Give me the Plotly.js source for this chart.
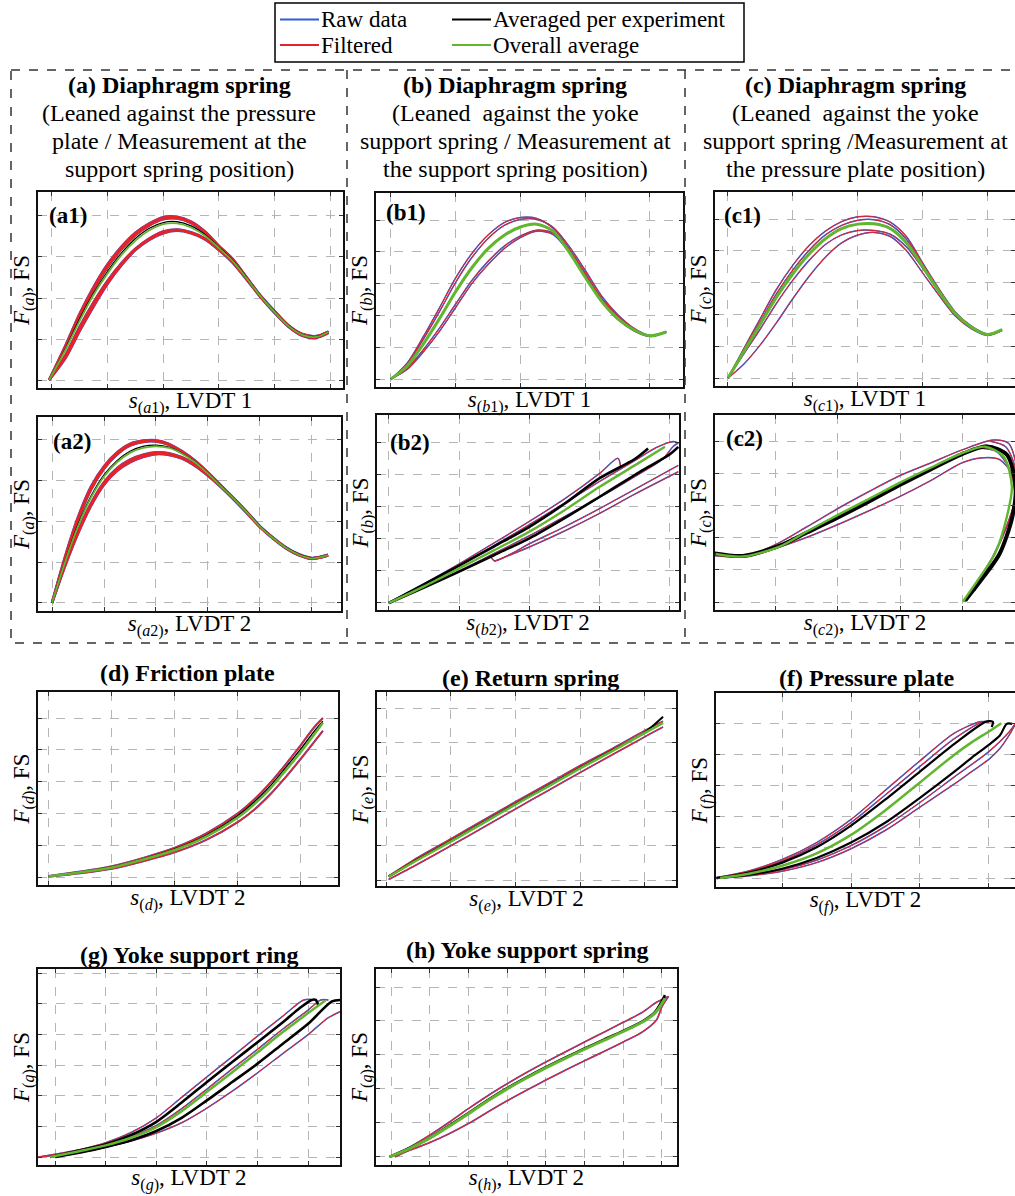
<!DOCTYPE html>
<html><head><meta charset="utf-8">
<script src="https://cdn.plot.ly/plotly-3.0.1.min.js"></script>
<style>html,body{margin:0;padding:0;background:#fff}#chart{width:1015px;height:1196px}</style>
</head><body><div id="chart"></div>
<script>
// ---------------- DATA (normalised grid units) ----------------
// (a1)
const a1_s  = [-0.05,0.25,0.5,0.75,1.0,1.25,1.5,1.75,2.0,2.25,2.5,2.75,3.0,3.25,3.5,3.75,4.0,4.25,4.5,4.75,4.97];
const a1_f1 = [0,0.86,1.62,2.27,2.82,3.25,3.59,3.82,3.97,3.98,3.86,3.62,3.27,2.95,2.5,2.05,1.68,1.33,1.12,1.07,1.18];
const a1_f2 = [0,0.82,1.56,2.2,2.75,3.19,3.53,3.77,3.92,3.94,3.83,3.6,3.26,2.93,2.49,2.05,1.67,1.33,1.11,1.06,1.17];
const a1_f3 = [0,0.62,1.3,1.9,2.42,2.85,3.2,3.45,3.62,3.67,3.6,3.45,3.18,2.86,2.45,2.02,1.64,1.3,1.08,1.03,1.15];
const a1_f4 = [0,0.55,1.2,1.8,2.35,2.8,3.17,3.42,3.58,3.64,3.58,3.43,3.17,2.87,2.46,2.03,1.65,1.31,1.09,1.04,1.16];
const a1_k1 = [0,0.78,1.5,2.12,2.65,3.1,3.45,3.7,3.84,3.86,3.76,3.55,3.24,2.92,2.49,2.05,1.67,1.33,1.11,1.06,1.17];
const a1_g  = [0,0.75,1.45,2.08,2.6,3.05,3.4,3.65,3.8,3.82,3.72,3.52,3.22,2.9,2.48,2.04,1.66,1.32,1.1,1.05,1.17];
// (a2)
const a2_s  = [0,0.25,0.5,0.75,1.0,1.25,1.5,1.75,2.0,2.25,2.5,2.75,3.0,3.25,3.5,3.75,4.0,4.25,4.5,4.75,5.0,5.31];
const a2_f1 = [0,1.13,2.1,2.85,3.35,3.69,3.9,3.98,3.99,3.9,3.72,3.49,3.2,2.88,2.56,2.23,1.88,1.6,1.36,1.19,1.1,1.18];
const a2_f2 = [0,1.08,2.03,2.78,3.29,3.64,3.86,3.95,3.96,3.88,3.7,3.47,3.19,2.87,2.55,2.22,1.87,1.59,1.35,1.18,1.09,1.17];
const a2_f3 = [0,0.9,1.7,2.38,2.9,3.24,3.45,3.58,3.65,3.63,3.54,3.36,3.12,2.84,2.53,2.2,1.86,1.58,1.34,1.17,1.08,1.16];
const a2_f4 = [0,0.94,1.76,2.44,2.96,3.3,3.51,3.63,3.69,3.67,3.57,3.39,3.14,2.85,2.54,2.21,1.87,1.59,1.35,1.18,1.09,1.17];
const a2_k1 = [0,1.02,1.92,2.62,3.14,3.49,3.72,3.84,3.87,3.82,3.67,3.46,3.18,2.87,2.56,2.23,1.88,1.6,1.36,1.19,1.1,1.18];
const a2_g  = [0,1.0,1.88,2.58,3.1,3.45,3.68,3.8,3.84,3.8,3.66,3.45,3.17,2.86,2.55,2.22,1.87,1.59,1.35,1.18,1.09,1.17];
// (b1)
const b1_s  = [0,0.25,0.5,0.75,1.0,1.25,1.5,1.75,2.0,2.25,2.5,2.75,3.0,3.25,3.5,3.75,4.0,4.25];
const b1_f1 = [0,0.5,1.33,2.24,3.18,3.95,4.53,4.92,5.08,5.05,4.75,4.1,3.33,2.54,1.99,1.58,1.36,1.49];
const b1_f2 = [0,0.46,1.25,2.12,3.04,3.82,4.42,4.83,5.02,5.02,4.78,4.18,3.42,2.62,2.03,1.6,1.37,1.5];
const b1_f3 = [0,0.3,0.85,1.5,2.25,3.0,3.6,4.1,4.45,4.65,4.55,4.0,3.22,2.45,1.88,1.52,1.34,1.47];
const b1_f4 = [0,0.34,0.92,1.6,2.36,3.1,3.7,4.18,4.5,4.68,4.6,4.08,3.3,2.5,1.92,1.54,1.35,1.48];
const b1_g  = [0,0.4,1.1,1.9,2.75,3.5,4.1,4.52,4.78,4.87,4.66,4.0,3.2,2.45,1.9,1.55,1.36,1.48];
// (b2)
const b2_f1x = [0,0.5,1.0,1.5,2.0,2.5,3.0,3.26,3.3];
const b2_f1y = [0,0.6,1.22,1.88,2.55,3.25,4.05,4.52,4.25];
const b2_f2x = [0,0.5,1.0,1.5,2.0,2.5,3.0,3.5,3.8,4.05,4.12];
const b2_f2y = [0,0.58,1.18,1.8,2.45,3.12,3.8,4.45,4.85,5.05,5.0];
const b2_f3x = [1.44,1.5,1.75,2.0,2.5,3.0,3.5,4.12];
const b2_f3y = [1.5,1.32,1.55,1.85,2.38,2.95,3.55,4.3];
const b2_f4x = [1.5,2.0,2.5,3.0,3.5,4.12];
const b2_f4y = [1.3,1.75,2.25,2.8,3.4,4.1];
const b2_f5x = [0,0.5,1.0,1.5,2.0,2.5,3.0,3.5,3.9,4.05,4.12];
const b2_f5y = [0,0.5,1.0,1.55,2.1,2.7,3.3,3.95,4.5,4.9,5.0];
const b2_k1x = [0,0.5,1.0,1.5,2.0,2.5,3.0,3.5,3.69];
const b2_k1y = [0,0.58,1.17,1.77,2.38,3.1,3.9,4.5,4.83];
const b2_k2x = [0,0.5,1.0,1.5,2.0,2.5,3.0,3.5,3.7,4.0,4.12];
const b2_k2y = [0,0.48,0.98,1.5,2.02,2.65,3.32,4.0,4.26,4.65,4.88];
const b2_gx  = [0,0.5,1.0,1.5,2.0,2.5,3.0,3.5,3.93];
const b2_gy  = [0,0.52,1.08,1.65,2.23,2.9,3.63,4.3,4.88];
// (c1)
const c1_s  = [0,0.25,0.5,0.75,1.0,1.25,1.5,1.75,2.0,2.25,2.5,2.75,3.0,3.25,3.5,3.75,4.0,4.22];
const c1_f1 = [0,0.95,1.88,2.8,3.55,4.17,4.62,4.92,5.07,5.07,4.9,4.44,3.61,2.8,2.08,1.63,1.38,1.53];
const c1_f2 = [0,0.78,1.55,2.36,3.08,3.7,4.2,4.5,4.64,4.64,4.52,4.12,3.45,2.7,2.0,1.58,1.36,1.51];
const c1_f3 = [0,0.45,1.05,1.75,2.5,3.2,3.8,4.25,4.5,4.58,4.45,4.0,3.3,2.6,1.95,1.55,1.34,1.49];
const c1_f4 = [0,0.9,1.78,2.66,3.4,4.02,4.5,4.8,4.96,4.98,4.82,4.36,3.58,2.77,2.06,1.62,1.38,1.53];
const c1_g  = [0,0.85,1.7,2.55,3.28,3.9,4.38,4.7,4.84,4.85,4.7,4.25,3.5,2.72,2.03,1.6,1.37,1.52];
// (c2)
const c2_f1x = [0.0,0.5,1.0,1.5,2.0,2.5,3.0,3.5,4.0,4.5,4.75,4.9];
const c2_f1y = [1.45,1.42,1.8,2.35,2.92,3.45,3.95,4.35,4.75,5.06,4.95,4.0];
const c2_f2x = [0.5,1.0,1.5,2.0,2.5,3.0,3.5,4.0,4.3,4.6,4.8,4.85];
const c2_f2y = [1.42,1.68,2.02,2.42,2.85,3.3,3.8,4.35,4.5,4.45,4.0,3.2];
const c2_f3x = [4.45,4.7,4.85,4.85,4.7,4.5,4.28,4.04];
const c2_f3y = [5.02,4.85,4.2,3.2,2.3,1.45,0.72,0.0];
const c2_f4x = [4.3,4.55,4.75,4.85,4.8,4.62,4.4,4.2];
const c2_f4y = [4.8,4.7,4.2,3.4,2.8,1.9,1.05,0.35];
const c2_kx  = [0.0,0.47,1.06,1.5,2.0,2.5,3.0,3.5,4.0,4.4,4.72,4.86,4.8,4.6,4.35,4.05];
const c2_ky  = [1.52,1.44,1.76,2.17,2.64,3.14,3.66,4.15,4.62,4.86,4.6,3.6,2.6,1.5,0.8,0.05];
const c2_gx  = [0.03,0.47,1.06,1.5,2.0,2.5,3.0,3.5,4.0,4.37,4.67,4.8,4.72,4.53,4.29,4.01];
const c2_gy  = [1.5,1.42,1.73,2.2,2.72,3.22,3.73,4.2,4.65,4.85,4.54,3.6,2.67,1.52,0.79,0.01];
// (d) friction plate
const d_s  = [0,0.5,1.0,1.5,2.0,2.5,3.0,3.25,3.5,3.75,4.0,4.2,4.35];
const d_f1 = [0.03,0.17,0.34,0.6,0.92,1.37,2.0,2.42,2.93,3.52,4.15,4.68,5.0];
const d_f2 = [0.01,0.12,0.26,0.5,0.78,1.17,1.73,2.1,2.57,3.12,3.72,4.22,4.6];
const d_k1 = [0.02,0.16,0.32,0.57,0.88,1.31,1.93,2.34,2.83,3.42,4.03,4.55,4.9];
const d_g  = [0.02,0.15,0.3,0.55,0.85,1.27,1.87,2.27,2.75,3.33,3.93,4.45,4.85];
// (e) return spring
const e_s  = [0.04,0.5,1.0,1.5,2.0,2.5,3.0,3.5,4.0,4.28];
const e_f1 = [0.12,0.67,1.2,1.74,2.28,2.8,3.33,3.83,4.35,4.62];
const e_f2 = [0.02,0.48,1.0,1.53,2.07,2.6,3.13,3.65,4.17,4.45];
const e_k1 = [0.1,0.62,1.14,1.68,2.22,2.74,3.27,3.78,4.3,4.75];
const e_g  = [0.1,0.6,1.12,1.66,2.2,2.72,3.25,3.76,4.28,4.57];
// (f) pressure plate
const f_f1x = [0.0,0.5,1.0,1.5,2.0,2.5,3.0,3.5,3.87,3.95];
const f_f1y = [0,0.22,0.6,1.15,1.9,2.85,3.8,4.7,5.07,5.07];
const f_f3x = [0.05,0.5,1.0,1.5,2.0,2.5,3.0,3.5,3.92,4.0];
const f_f3y = [0,0.2,0.55,1.08,1.8,2.7,3.62,4.52,5.07,5.05];
const f_f4x = [0.1,0.5,1.0,1.5,2.0,2.5,3.0,3.5,4.0,4.3,4.38];
const f_f4y = [0,0.09,0.27,0.58,1.05,1.68,2.45,3.28,4.1,4.75,5.0];
const f_f2x = [0.1,0.5,1.0,1.5,2.0,2.5,3.0,3.5,3.75,4.0,4.16,4.3,4.38];
const f_f2y = [0,0.07,0.22,0.5,0.95,1.55,2.3,3.05,3.45,3.85,4.2,4.65,4.97];
const f_k1x = [0.05,0.5,1.0,1.5,2.0,2.5,3.0,3.5,3.97,4.06,4.04];
const f_k1y = [0,0.17,0.5,1.0,1.7,2.55,3.45,4.35,5.08,5.06,4.9];
const f_k2x = [0.05,0.5,1.0,1.5,2.0,2.5,3.0,3.5,3.75,4.0,4.16,4.26,4.34];
const f_k2y = [0,0.1,0.3,0.65,1.15,1.8,2.6,3.45,3.9,4.32,4.62,5.0,5.0];
const f_gx  = [0.1,0.5,1.0,1.5,2.0,2.5,3.0,3.5,3.75,4.0,4.18];
const f_gy  = [0,0.13,0.4,0.8,1.4,2.2,3.1,4.0,4.4,4.75,5.02];
// (g) yoke support ring
const g_f1x = [-0.33,0.5,1.0,1.5,2.0,2.5,3.0,3.5,4.0,4.5,4.9,5.05];
const g_f1y = [0,0.25,0.47,0.8,1.28,1.95,2.62,3.28,3.95,4.6,5.12,5.15];
const g_f2x = [-0.33,0.5,1.0,1.5,2.0,2.5,3.0,3.5,4.0,4.5,5.0,5.4,5.63];
const g_f2y = [0,0.15,0.32,0.52,0.78,1.12,1.6,2.15,2.75,3.38,4.0,4.55,4.75];
const g_f3x = [-0.1,0.5,1.0,1.5,2.0,2.5,3.0,3.5,4.0,4.5,5.0,5.25,5.4];
const g_f3y = [0,0.2,0.4,0.66,1.03,1.58,2.22,2.88,3.52,4.18,4.8,5.13,5.13];
const g_k1x = [-0.1,0.5,1.0,1.5,2.0,2.5,3.0,3.5,4.0,4.5,4.8,5.07,5.15,5.2];
const g_k1y = [0,0.22,0.42,0.72,1.15,1.78,2.45,3.1,3.75,4.4,4.82,5.13,5.13,4.95];
const g_k2x = [0.0,0.5,1.0,1.5,2.0,2.5,3.0,3.5,4.0,4.5,5.0,5.47,5.63];
const g_k2y = [0,0.15,0.33,0.55,0.85,1.28,1.85,2.45,3.05,3.7,4.35,5.08,5.13];
const g_gx  = [-0.1,0.5,1.0,1.5,2.0,2.5,3.0,3.5,4.0,4.5,5.0,5.34];
const g_gy  = [0,0.2,0.38,0.63,0.98,1.5,2.13,2.77,3.42,4.08,4.7,5.11];
// (h) yoke support spring
const h_f1x = [-0.04,0.5,1.0,1.5,2.0,2.5,3.0,3.5,4.0,4.5,5.0,5.5,6.0,6.5,6.86,7.17];
const h_f1y = [0,0.3,0.64,1.02,1.42,1.8,2.15,2.48,2.79,3.09,3.38,3.67,3.96,4.26,4.55,4.72];
const h_f2x = [0.1,0.5,1.0,1.5,2.0,2.5,3.0,3.5,4.0,4.5,5.0,5.5,6.0,6.5,6.86,7.0,7.17];
const h_f2y = [0,0.2,0.42,0.68,0.98,1.32,1.65,1.96,2.26,2.55,2.83,3.1,3.38,3.68,4.03,4.42,4.72];
const h_s   = [-0.04,0.5,1.0,1.5,2.0,2.5,3.0,3.5,4.0,4.5,5.0,5.5,6.0,6.5,6.82,7.08];
const h_k1  = [0,0.27,0.56,0.92,1.29,1.67,2.02,2.34,2.64,2.92,3.19,3.45,3.71,3.99,4.26,4.76];
const h_g   = [0,0.26,0.55,0.9,1.27,1.65,2.0,2.32,2.62,2.9,3.17,3.43,3.69,3.97,4.23,4.67];

const legendLabels = ['Raw data','Filtered','Averaged per experiment','Overall average'];

// ---------------- LAYOUT HELPERS ----------------
const W = 1015, H = 1196;
const px = v => v / W, py = v => 1 - v / H;
const FONT = '"Liberation Serif", "Times New Roman", serif';
const COL = {raw:'#2c5fd3', filt:'#e6222b', avg:'#000000', all:'#62b52f'};
const fLab = l => '<i>F</i><sub>(<i>' + l + '</i>)</sub>, FS';
const sLab = (l, n, lv) => '<i>s</i><sub>(<i>' + l + '</i>' + n + ')</sub>, LVDT ' + lv;

const panels = [
 {box:[38,343,192,388], xr:[-0.25,5.23], yr:[-0.195,4.585], xt:sLab('a','1','1'), yt:fLab('a'), tag:'(a1)', tp:[47,215], fw:2.2, kw:1.3, gw:1.8,
  filt:[[a1_s,a1_f1],[a1_s,a1_f2],[a1_s,a1_f3],[a1_s,a1_f4]], avg:[[a1_s,a1_k1]], all:[a1_s,a1_g]},
 {box:[38,341,417,611], xr:[-0.27,5.56], yr:[-0.2,4.56], xt:sLab('a','2','2'), yt:fLab('a'), tag:'(a2)', tp:[51,441], fw:2.2, kw:1.3, gw:1.8,
  filt:[[a2_s,a2_f1],[a2_s,a2_f2],[a2_s,a2_f3],[a2_s,a2_f4]], avg:[[a2_s,a2_k1]], all:[a2_s,a2_g]},
 {box:[376,683,193,387], xr:[-0.23,4.51], yr:[-0.25,5.85], xt:sLab('b','1','1'), yt:fLab('b'), tag:'(b1)', tp:[384,212], fw:1, kw:1.5, gw:3,
  filt:[[b1_s,b1_f1],[b1_s,b1_f2],[b1_s,b1_f3],[b1_s,b1_f4]], avg:[[b1_s,b1_g]], all:[b1_s,b1_g]},
 {box:[377,679,415,610], xr:[-0.17,4.13], yr:[-0.22,5.875], xt:sLab('b','2','2'), yt:fLab('b'), tag:'(b2)', tp:[388,443], fw:1, kw:2.6, gw:2.4,
  filt:[[b2_f1x,b2_f1y],[b2_f2x,b2_f2y],[b2_f3x,b2_f3y],[b2_f4x,b2_f4y],[b2_f5x,b2_f5y]], avg:[[b2_k1x,b2_k1y],[b2_k2x,b2_k2y]], all:[b2_gx,b2_gy]},
 {box:[715,1015,192,386], xr:[-0.2,4.42], yr:[-0.25,5.85], xt:sLab('c','1','1'), yt:fLab('c'), tag:'(c1)', tp:[722,215], fw:1, kw:1.5, gw:3,
  filt:[[c1_s,c1_f1],[c1_s,c1_f2],[c1_s,c1_f3],[c1_s,c1_f4]], avg:[[c1_s,c1_g]], all:[c1_s,c1_g]},
 {box:[715,1015,415,610], xr:[0.02,4.85], yr:[-0.25,5.84], xt:sLab('c','2','2'), yt:fLab('c'), tag:'(c2)', tp:[724,438], fw:1, kw:4, gw:2.4,
  filt:[[c2_f1x,c2_f1y],[c2_f2x,c2_f2y],[c2_f3x,c2_f3y],[c2_f4x,c2_f4y]], avg:[[c2_kx,c2_ky]], all:[c2_gx,c2_gy]},
 {box:[38,338,692,885], xr:[-0.17,4.59], yr:[-0.25,5.82], xt:sLab('d','',2), yt:fLab('d'), title:'(d) Friction plate', ttl:[187,673], fw:1.6, kw:1.5, gw:2.5,
  filt:[[d_s,d_f1],[d_s,d_f2]], avg:[[d_s,d_k1]], all:[d_s,d_g]},
 {box:[377,676,692,886], xr:[-0.14,4.48], yr:[-0.17,5.47], xt:sLab('e','',2), yt:fLab('e'), title:'(e) Return spring', ttl:[530,678], fw:1.2, kw:2, gw:2.5,
  filt:[[e_s,e_f1],[e_s,e_f2]], avg:[[e_s,e_k1]], all:[e_s,e_g]},
 {box:[716,1015,693,887], xr:[0.04,4.38], yr:[-0.29,6.0], xt:sLab('f','',2), yt:fLab('f'), title:'(f) Pressure plate', ttl:[866,678], fw:1, kw:2.2, gw:2.5,
  filt:[[f_f1x,f_f1y],[f_f3x,f_f3y],[f_f4x,f_f4y],[f_f2x,f_f2y]], avg:[[f_k1x,f_k1y],[f_k2x,f_k2y]], all:[f_gx,f_gy]},
 {box:[38,340,969,1165], xr:[-0.34,5.63], yr:[-0.26,6.14], xt:sLab('g','',2), yt:fLab('g'), title:'(g) Yoke support ring', ttl:[189,955], fw:1, kw:2.6, gw:2.5,
  filt:[[g_f1x,g_f1y],[g_f2x,g_f2y],[g_f3x,g_f3y]], avg:[[g_k1x,g_k1y],[g_k2x,g_k2y]], all:[g_gx,g_gy]},
 {box:[376,677,969,1165], xr:[-0.39,7.39], yr:[-0.24,5.53], xt:sLab('h','',2), yt:fLab('g'), title:'(h) Yoke support spring', ttl:[527,950], fw:1.2, kw:2.6, gw:3,
  filt:[[h_f1x,h_f1y],[h_f2x,h_f2y]], avg:[[h_s,h_k1]], all:[h_s,h_g]}
];

const traces = [];
const layout = {
  width: W, height: H, margin:{l:0,r:0,t:0,b:0}, showlegend:false,
  paper_bgcolor:'#fff', plot_bgcolor:'#fff', font:{family:FONT, color:'#000', size:22},
  shapes:[], annotations:[]
};

panels.forEach((p, i) => {
  const n = i === 0 ? '' : String(i + 1);
  const xa = 'x' + n, ya = 'y' + n;
  const line = (kind, w) => ({color:COL[kind], width:w, shape:'spline', smoothing:0.8});
  p.filt.forEach(c => traces.push({type:'scatter', mode:'lines', x:c[0], y:c[1], xaxis:xa, yaxis:ya, line:line('raw', p.fw + 0.5), name:legendLabels[0], hoverinfo:'skip'}));
  p.filt.forEach(c => traces.push({type:'scatter', mode:'lines', x:c[0], y:c[1], xaxis:xa, yaxis:ya, line:line('filt', p.fw), name:legendLabels[1], hoverinfo:'skip'}));
  p.avg.forEach(c => traces.push({type:'scatter', mode:'lines', x:c[0], y:c[1], xaxis:xa, yaxis:ya, line:line('avg', p.kw), name:legendLabels[2], hoverinfo:'skip'}));
  traces.push({type:'scatter', mode:'lines', x:p.all[0], y:p.all[1], xaxis:xa, yaxis:ya, line:line('all', p.gw), name:legendLabels[3], hoverinfo:'skip'});

  const common = {showticklabels:false, ticks:'inside', ticklen:4, tickwidth:1, tickcolor:'#333', dtick:1, tick0:0,
    showgrid:true, gridcolor:'#b5b5b5', griddash:'dash', gridwidth:1, zeroline:false,
    showline:true, linecolor:'#111', linewidth:2, mirror:'ticks', fixedrange:true};
  layout['xaxis' + n] = Object.assign({}, common, {domain:[px(p.box[0]), Math.min(1, px(p.box[1]))], range:p.xr, anchor:ya,
    title:{text:p.xt, font:{size:23, family:FONT}, standoff:3}});
  layout['yaxis' + n] = Object.assign({}, common, {domain:[py(p.box[3]), py(p.box[2])], range:p.yr, anchor:xa,
    title:{text:p.yt, font:{size:23, family:FONT}, standoff:0}});
  if (p.tag) layout.annotations.push({xref:'paper', yref:'paper', x:px(p.tp[0]), y:py(p.tp[1]), xanchor:'left', yanchor:'middle',
    text:'<b>' + p.tag + '</b>', showarrow:false, font:{size:23, family:FONT}});
  if (p.title) layout.annotations.push({xref:'paper', yref:'paper', x:px(p.ttl[0]), y:py(p.ttl[1]), xanchor:'center', yanchor:'middle',
    text:'<b>' + p.title + '</b>', showarrow:false, font:{size:24, family:FONT}});
});

// group titles of the dashed block (one annotation per line)
const groupTitles = [
  {x:179, lines:['<b>(a) Diaphragm spring</b>','(Leaned against the pressure','plate / Measurement at the','support spring position)']},
  {x:515, lines:['<b>(b) Diaphragm spring</b>','(Leaned  against the yoke','support spring / Measurement at','the support spring position)']},
  {x:855, lines:['<b>(c) Diaphragm spring</b>','(Leaned  against the yoke','support spring /Measurement at','the pressure plate position)']}
];
const lineY = [85, 113, 141, 169];
groupTitles.forEach(g => g.lines.forEach((t, k) => layout.annotations.push({xref:'paper', yref:'paper', x:px(g.x), y:py(lineY[k]),
  xanchor:'center', yanchor:'middle', text:t, showarrow:false, font:{size:24, family:FONT}})));

// dashed enclosure
const dash = {color:'#333', width:1.5, dash:'dash'};
layout.shapes.push({type:'rect', xref:'paper', yref:'paper', x0:px(11), x1:px(1018), y0:py(70), y1:py(643), line:dash});
layout.shapes.push({type:'line', xref:'paper', yref:'paper', x0:px(347), x1:px(347), y0:py(70), y1:py(643), line:dash});
layout.shapes.push({type:'line', xref:'paper', yref:'paper', x0:px(685), x1:px(685), y0:py(70), y1:py(643), line:dash});

// legend box
layout.shapes.push({type:'rect', xref:'paper', yref:'paper', x0:px(275), x1:px(744), y0:py(3), y1:py(62), line:{color:'#000', width:1.5}});
const legItems = [
  {kind:'raw', x:280, y:19.5, label:legendLabels[0]},
  {kind:'filt', x:280, y:45, label:legendLabels[1]},
  {kind:'avg', x:452, y:19.5, label:legendLabels[2]},
  {kind:'all', x:452, y:45, label:legendLabels[3]}
];
legItems.forEach(l => {
  layout.shapes.push({type:'line', xref:'paper', yref:'paper', x0:px(l.x), x1:px(l.x + 39), y0:py(l.y), y1:py(l.y), line:{color:COL[l.kind], width:2}});
  layout.annotations.push({xref:'paper', yref:'paper', x:px(l.x + 40), y:py(l.y), xanchor:'left', yanchor:'middle', text:l.label,
    showarrow:false, borderpad:0, font:{size:23, family:FONT}});
});

Plotly.newPlot('chart', traces, layout, {staticPlot:true, displayModeBar:false});
</script></body></html>
